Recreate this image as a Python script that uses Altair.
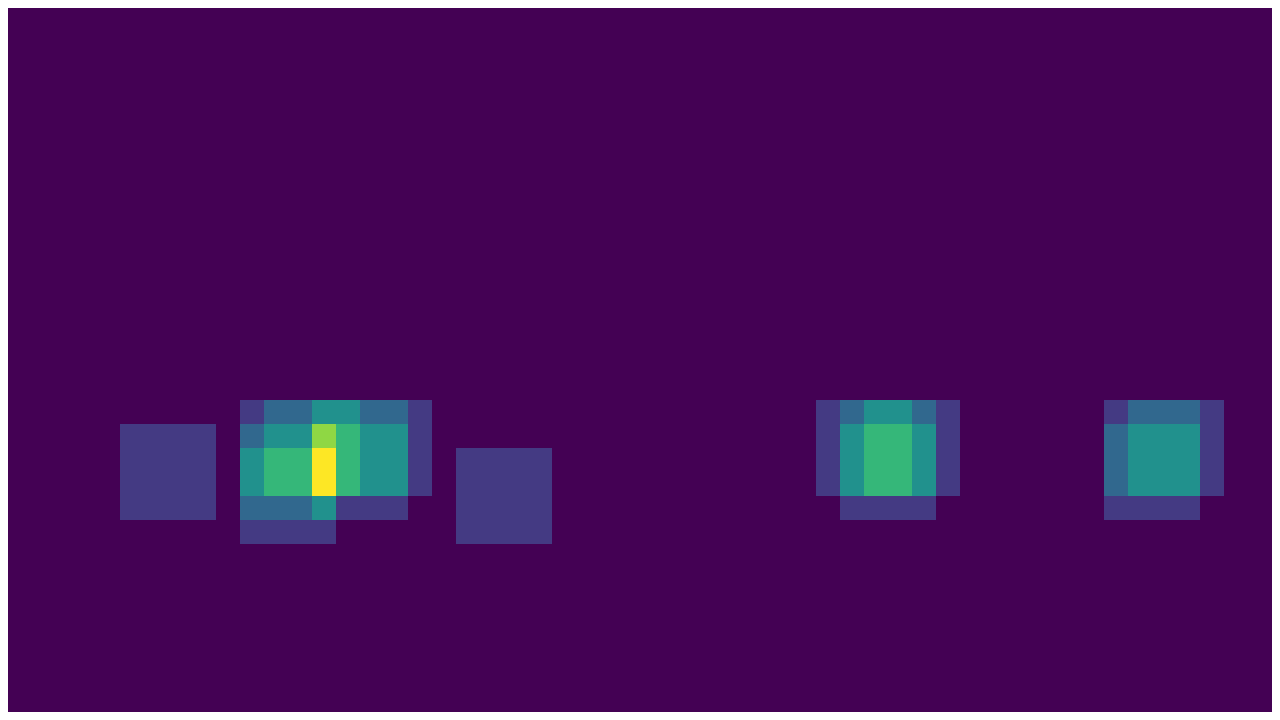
import altair as alt
import pandas as pd

# Heatmap counts: grid rows 16..21, columns 5..50 (24 px cells)
first_row = 16
first_col = 5
counts = [
    # row 16
    [0, 0, 0, 0, 0, 1, 2, 2, 3, 3, 2, 2, 1,
     0, 0, 0, 0, 0, 0, 0, 0, 0, 0, 0, 0, 0, 0, 0, 0,
     1, 2, 3, 3, 2, 1, 0, 0, 0, 0, 0, 0, 1, 2, 2, 2, 1],
    # row 17
    [1, 1, 1, 1, 0, 2, 3, 3, 5, 4, 3, 3, 1,
     0, 0, 0, 0, 0, 0, 0, 0, 0, 0, 0, 0, 0, 0, 0, 0,
     1, 3, 4, 4, 3, 1, 0, 0, 0, 0, 0, 0, 2, 3, 3, 3, 1],
    # row 18
    [1, 1, 1, 1, 0, 3, 4, 4, 6, 4, 3, 3, 1,
     0, 1, 1, 1, 1, 0, 0, 0, 0, 0, 0, 0, 0, 0, 0, 0,
     1, 3, 4, 4, 3, 1, 0, 0, 0, 0, 0, 0, 2, 3, 3, 3, 1],
    # row 19
    [1, 1, 1, 1, 0, 3, 4, 4, 6, 4, 3, 3, 1,
     0, 1, 1, 1, 1, 0, 0, 0, 0, 0, 0, 0, 0, 0, 0, 0,
     1, 3, 4, 4, 3, 1, 0, 0, 0, 0, 0, 0, 2, 3, 3, 3, 1],
    # row 20
    [1, 1, 1, 1, 0, 2, 2, 2, 3, 1, 1, 1, 0,
     0, 1, 1, 1, 1, 0, 0, 0, 0, 0, 0, 0, 0, 0, 0, 0,
     0, 1, 1, 1, 1, 0, 0, 0, 0, 0, 0, 0, 1, 1, 1, 1, 0],
    # row 21
    [0, 0, 0, 0, 0, 1, 1, 1, 1, 0, 0, 0, 0,
     0, 1, 1, 1, 1, 0, 0, 0, 0, 0, 0, 0, 0, 0, 0, 0,
     0, 0, 0, 0, 0, 0, 0, 0, 0, 0, 0, 0, 0, 0, 0, 0, 0],
]

records = []
for ri, row in enumerate(counts):
    for ci, v in enumerate(row):
        records.append({"col": first_col + ci, "row": first_row + ri, "count": v})
df = pd.DataFrame(records)

BG = "#440154"

chart = (
    alt.Chart(df)
    .transform_calculate(col2="datum.col + 1", row2="datum.row + 1")
    .mark_rect(strokeWidth=0)
    .encode(
        x=alt.X("col:Q", scale=alt.Scale(domain=[8 / 24, 1272 / 24], nice=False, zero=False), axis=None),
        x2="col2:Q",
        y=alt.Y("row:Q", scale=alt.Scale(domain=[-8 / 24, 696 / 24], nice=False, zero=False, reverse=True), axis=None),
        y2="row2:Q",
        color=alt.Color("count:Q", scale=alt.Scale(scheme="viridis", domain=[0, 6]), legend=None),
    )
    .properties(
        width=1264,
        height=704,
        padding=0,
        autosize=alt.AutoSizeParams(type="none"),
        background=BG,
    )
    .configure_view(stroke=None, fill=BG)
)

chart.save("out.html", embed_options={"renderer": "svg", "actions": False})
